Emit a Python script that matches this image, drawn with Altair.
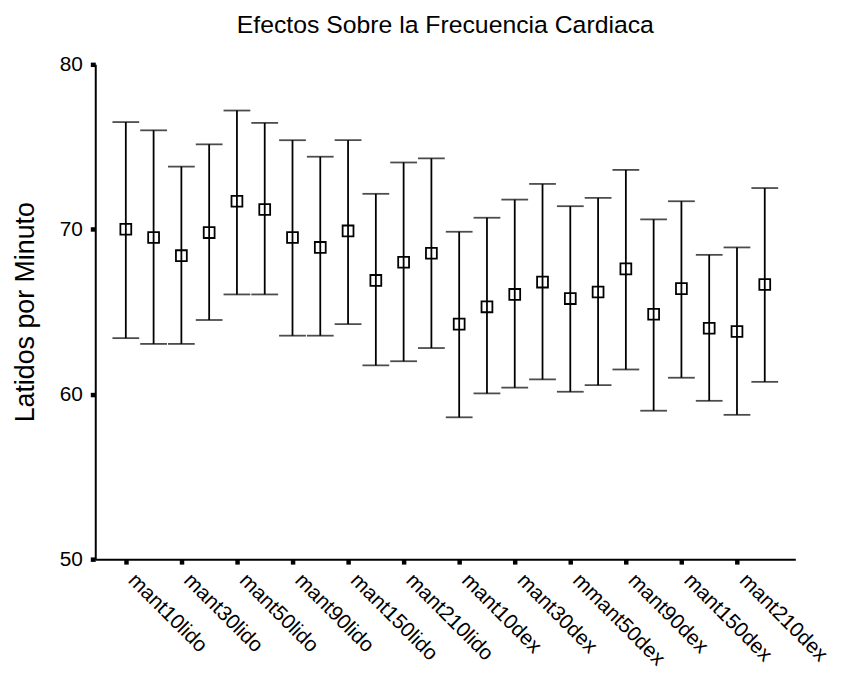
import altair as alt
import pandas as pd

# --- data ---
positions = list(range(1, 25))
means = [70.0, 69.5, 68.4, 69.8, 71.7, 71.2, 69.5, 68.9, 69.9, 66.9, 68.0, 68.55,
         64.25, 65.3, 66.05, 66.8, 65.8, 66.2, 67.6, 64.85, 66.4, 64.0, 63.8, 66.65]
uppers = [76.5, 76.0, 73.8, 75.15, 77.2, 76.45, 75.4, 74.4, 75.4, 72.15, 74.05, 74.3,
          69.85, 70.7, 71.8, 72.75, 71.4, 71.9, 73.6, 70.6, 71.7, 68.45, 68.9, 72.5]
lowers = [63.4, 63.05, 63.05, 64.5, 66.05, 66.05, 63.55, 63.55, 64.25, 61.75, 62.0, 62.8,
          58.6, 60.05, 60.4, 60.9, 60.15, 60.55, 61.5, 59.0, 61.0, 59.6, 58.75, 60.75]
tick_labels = ["mant10lido", "mant30lido", "mant50lido", "mant90lido", "mant150lido",
               "mant210lido", "mant10dex", "mant30dex", "mmant50dex", "mant90dex",
               "mant150dex", "mant210dex"]
tick_positions = list(range(1, 25, 2))

df = pd.DataFrame({"pos": positions, "mean": means, "upper": uppers, "lower": lowers})

FONT = "Liberation Sans"
label_array = "[" + ",".join('"%s"' % t for t in tick_labels) + "]"

x_scale = alt.Scale(domain=[-0.1, 25.1], nice=False, zero=False)
y_scale = alt.Scale(domain=[50, 80], nice=False, zero=False)

x_axis = alt.Axis(
    values=tick_positions,
    labelExpr=label_array + "[(datum.value - 1) / 2]",
    title=None,
    grid=False,
    domainColor="black",
    domainWidth=2,
    tickColor="black",
    tickWidth=4.5,
    tickSize=5,
    labelAngle=45,
    labelAlign="left",
    labelBaseline="top",
    labelFont=FONT,
    labelFontSize=21,
    labelColor="black",
    labelPadding=5,
    labelOffset=13,
    labelOverlap=False,
    labelFlush=False,
)
y_axis = alt.Axis(
    values=[50, 60, 70, 80],
    title="Latidos por Minuto",
    titleFont=FONT,
    titleFontSize=27,
    titleFontWeight="normal",
    titleColor="black",
    titlePadding=20,
    grid=False,
    domainColor="black",
    domainWidth=2,
    tickColor="black",
    tickWidth=4.5,
    tickSize=5,
    labelFont=FONT,
    labelFontSize=21,
    labelColor="black",
    labelPadding=8,
)

base = alt.Chart(df)

bars = base.mark_rule(color="black", strokeWidth=1.8).encode(
    x=alt.X("pos:Q", scale=x_scale, axis=x_axis),
    y=alt.Y("lower:Q", scale=y_scale, axis=y_axis),
    y2="upper:Q",
)
cap_hi = base.mark_tick(color="black", thickness=1.8, size=27, orient="horizontal").encode(
    x=alt.X("pos:Q", scale=x_scale),
    y=alt.Y("upper:Q", scale=y_scale),
)
cap_lo = base.mark_tick(color="black", thickness=1.8, size=27, orient="horizontal").encode(
    x=alt.X("pos:Q", scale=x_scale),
    y=alt.Y("lower:Q", scale=y_scale),
)
pts = base.mark_point(shape="square", filled=False, color="black", size=120,
                      strokeWidth=1.8, opacity=1).encode(
    x=alt.X("pos:Q", scale=x_scale),
    y=alt.Y("mean:Q", scale=y_scale),
)

chart = alt.layer(bars, cap_hi, cap_lo, pts).properties(
    width=706,
    height=499,
    background="white",
    title=alt.TitleParams(
        "Efectos Sobre la Frecuencia Cardiaca",
        font=FONT,
        fontSize=25,
        fontWeight="normal",
        color="black",
        anchor="middle",
        offset=16,
    ),
    autosize=alt.AutoSizeParams(type="none"),
    padding={"left": 88, "top": 54, "right": 38, "bottom": 114},
).configure_view(strokeWidth=0, stroke="transparent")

chart.save("out.html", embed_options={"renderer": "svg", "actions": False})
